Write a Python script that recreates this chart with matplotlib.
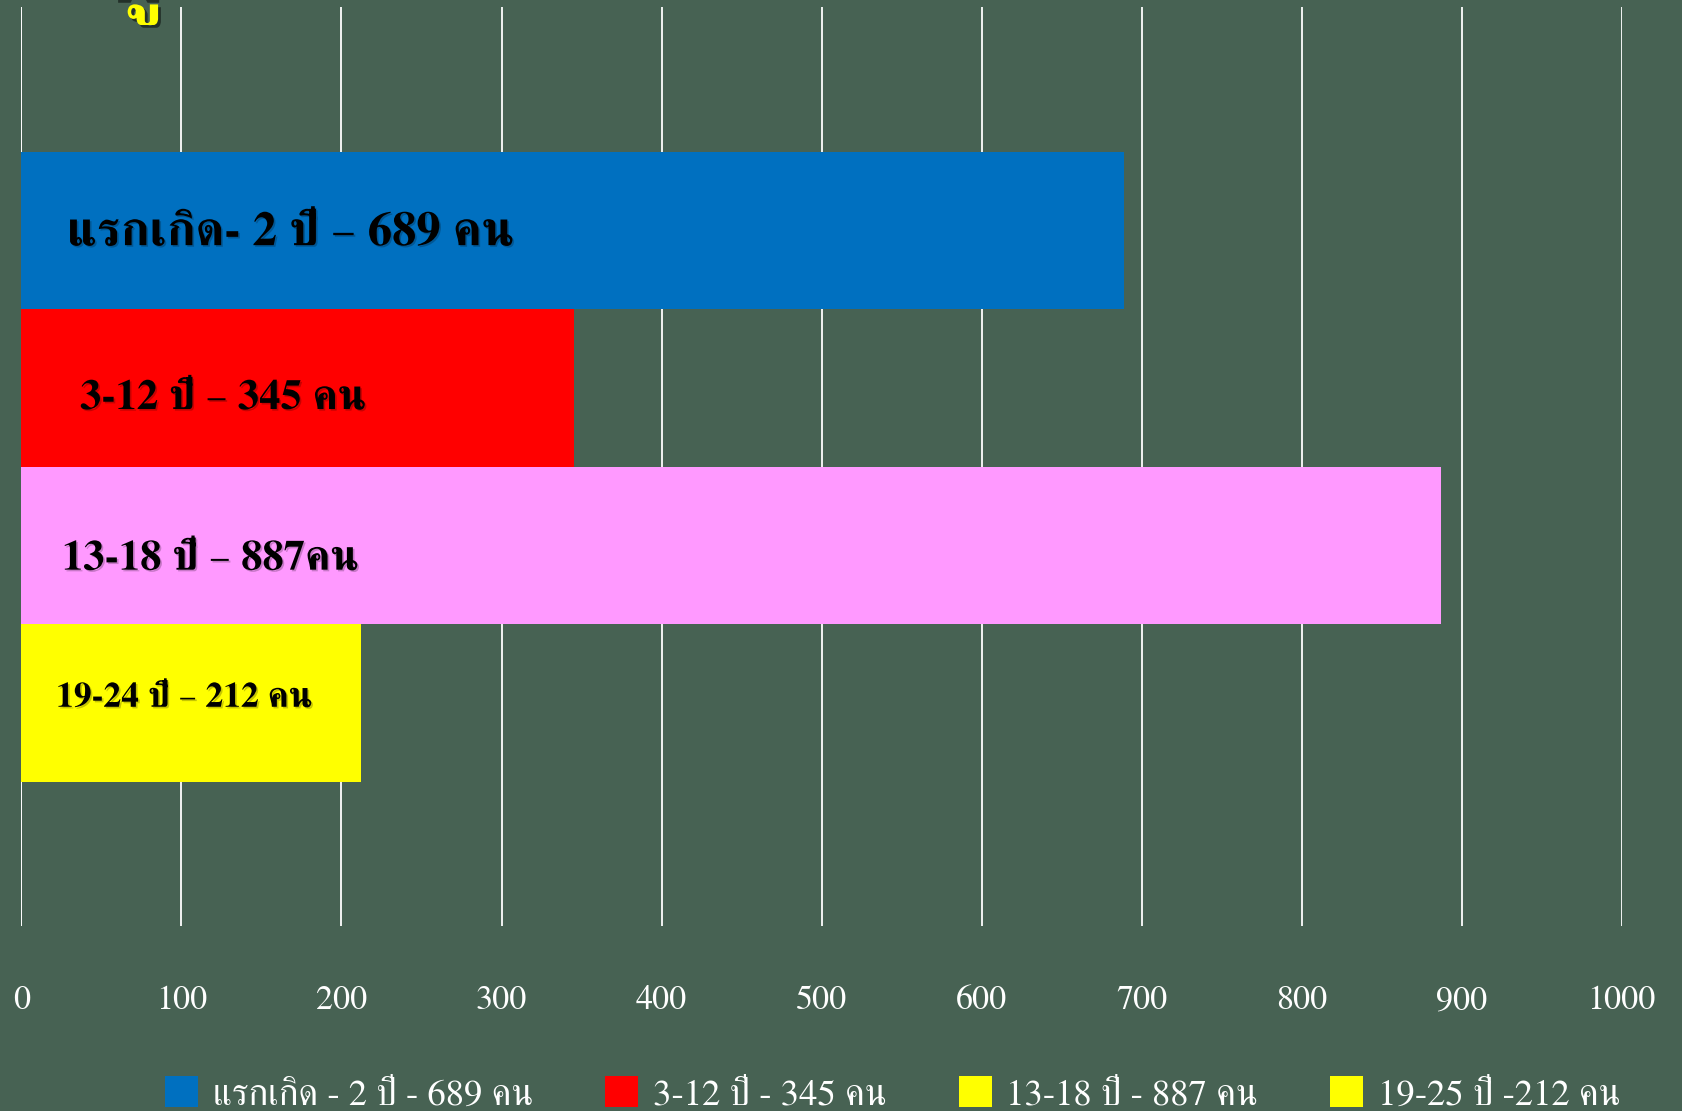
import matplotlib
matplotlib.use("Agg")
import matplotlib.pyplot as plt
import matplotlib.patheffects as pe
from matplotlib.patches import Patch

# data
groups = ["แรกเกิด - 2 ปี", "3-12 ปี", "13-18 ปี", "19-24 ปี"]
counts = [689, 345, 887, 212]
bar_colors = ["#0070C0", "#FF0000", "#FF99FF", "#FFFF00"]
bar_labels = ["แรกเกิด- 2 ปี – 689 คน", "3-12 ปี – 345 คน", "13-18 ปี – 887คน", "19-24 ปี – 212 คน"]
legend_labels = ["แรกเกิด - 2 ปี - 689 คน", "3-12 ปี - 345 คน", "13-18 ปี - 887 คน", "19-25 ปี -212 คน"]
legend_colors = ["#0070C0", "#FF0000", "#FFFF00", "#FFFF00"]
xticks = list(range(0, 1001, 100))

BG = "#476253"
THAI = ["FreeSerif", "Noto Serif Thai", "Liberation Serif", "DejaVu Serif"]
plt.rcParams["font.family"] = THAI

fig = plt.figure(figsize=(16.83, 11.11), dpi=100, facecolor=BG)
ax = fig.add_axes([0.01277, 0.1665, 0.9507, 0.8272], facecolor=BG)

ypos = [3, 2, 1, 0]
ax.barh(ypos, counts, height=1.0, color=bar_colors, zorder=3)

# label placement (x in data units, y in data units, font size)
lab_x = [28.4, 36.6, 25.3, 21.6]
lab_y = [2.98, 1.93, 0.91, 0.03]
lab_fs = [35, 30.7, 30.7, 25.6]
for i, txt in enumerate(bar_labels):
    ax.text(lab_x[i], lab_y[i], txt, fontsize=lab_fs[i], fontweight="bold",
            color="black", va="center", ha="left", zorder=4,
            path_effects=[pe.withSimplePatchShadow(offset=(1.2, -1.2), shadow_rgbFace="black", alpha=0.22)])

ax.set_xlim(0, 1000)
ax.set_ylim(-1.416, 4.419)
ax.set_xticks(xticks)
ax.set_xticklabels([str(t) for t in xticks])
ax.set_yticks([])
ax.grid(axis="x", color="white", linewidth=1.3, zorder=1)
for s in ax.spines.values():
    s.set_visible(False)
ax.axvline(0, color="white", linewidth=1.3, zorder=2)
ax.tick_params(axis="x", length=0, pad=43, labelsize=24.5, labelcolor="white")

# legend (swatches are cut off at the bottom edge like the original)
handles = [Patch(facecolor=c, edgecolor="none") for c in legend_colors]
fig.legend(handles, legend_labels, loc="center", bbox_to_anchor=(0.5305, 0.0153),
           ncol=4, frameon=False, fontsize=26.5, labelcolor="white",
           handlelength=0.9, handleheight=0.95, handletextpad=0.4,
           columnspacing=1.95, borderpad=0)

# fragment of title cut off at the top
fig.text(110 / 1683, 1.0, "ผู้", fontsize=60, fontweight="bold", color="#FFFF00",
         ha="left", va="baseline",
         path_effects=[pe.withSimplePatchShadow(offset=(2, -2), shadow_rgbFace="black", alpha=0.5)])

fig.savefig("out.png", facecolor=BG)
